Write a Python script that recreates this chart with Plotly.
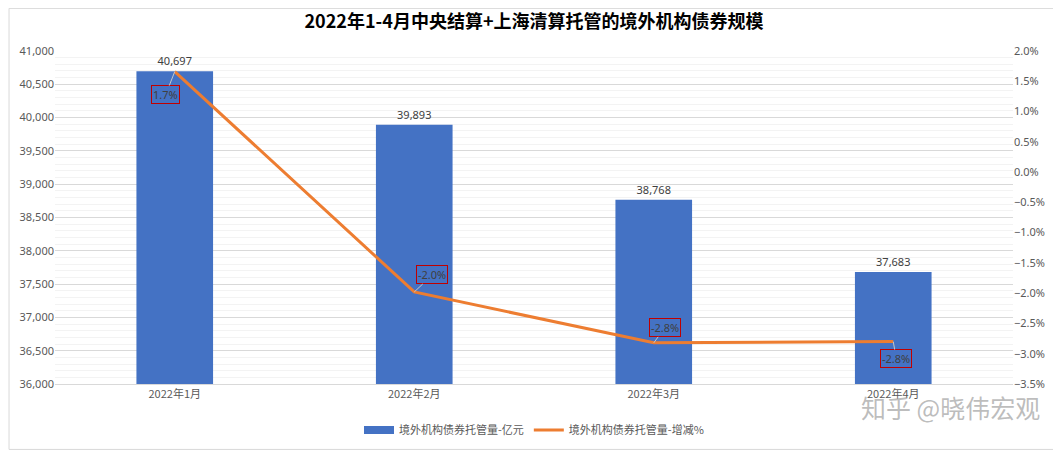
import plotly.graph_objects as go

categories = ["2022年1月", "2022年2月", "2022年3月", "2022年4月"]
custody_values = [40697, 39893, 38768, 37683]          # 亿元
change_pct = [1.66, -1.98, -2.82, -2.80]               # %
change_labels = ["1.7%", "-2.0%", "-2.8%", "-2.8%"]
label_offsets = [(-9, 23), (18, -17), (11, -15), (3, 17)]

bar_name = "境外机构债券托管量-亿元"
line_name = "境外机构债券托管量-增减%"
title_text = "2022年1-4月中央结算+上海清算托管的境外机构债券规模"
watermark = "知乎 @晓伟宏观"

FONT = "Noto Sans, Noto Sans CJK SC, sans-serif"
CJK = "Noto Sans CJK SC, sans-serif"
BLUE = "#4472C4"
ORANGE = "#ED7D31"

fig = go.Figure()
fig.add_trace(go.Bar(
    x=categories, y=custody_values, name=bar_name,
    marker=dict(color=BLUE, line=dict(width=0)),
    width=0.32, showlegend=False,
    text=[f"{v:,}" for v in custody_values],
    textposition="outside",
    textfont=dict(size=11, color="#404040", family=FONT),
    cliponaxis=False,
))
# legend proxy for the bar series (wide rectangle symbol)
fig.add_trace(go.Scatter(
    x=[None], y=[None], name=bar_name, mode="lines",
    line=dict(color=BLUE, width=8),
))
fig.add_trace(go.Scatter(
    x=categories, y=change_pct, name=line_name, yaxis="y2",
    mode="lines", line=dict(color=ORANGE, width=3),
))

for cat, val, lab, (ax, ay) in zip(categories, change_pct, change_labels, label_offsets):
    fig.add_annotation(
        x=cat, y=val, xref="x", yref="y2", text=lab,
        showarrow=True, arrowhead=0, arrowwidth=1, arrowcolor="#c8c8c8",
        ax=ax, ay=ay, font=dict(size=11, color="#404040", family=FONT),
        bordercolor="#C00000", borderwidth=1, borderpad=1,
    )

fig.add_annotation(
    text=watermark, xref="paper", yref="paper", x=0.935, y=-0.068,
    xanchor="center", yanchor="middle", showarrow=False,
    font=dict(size=25, color="rgba(160,160,160,0.7)", family=CJK),
)

# outer border (figure edges)
fig.add_shape(type="rect", xref="paper", yref="paper",
              x0=-0.048, x1=1.0495, y0=-0.1965, y1=1.128,
              line=dict(color="#d9d9d9", width=1), layer="below")

# page body has an 8px margin, so the figure is sized/placed to fill the 1061x450 window
fig.update_layout(
    width=1053, height=442,
    margin=dict(l=47, r=48, t=43, b=66, autoexpand=False),
    paper_bgcolor="white", plot_bgcolor="white",
    font=dict(family=FONT, size=11, color="#595959"),
    title=dict(text="<b>" + title_text + "</b>", x=0.5, xref="paper", y=0.968, yanchor="middle",
               font=dict(size=18, color="#000000", family=CJK)),
    bargap=0.68,
    showlegend=True,
    legend=dict(orientation="h", x=0.5, xanchor="center", y=-0.138, yanchor="middle",
                font=dict(size=11, color="#595959", family=CJK),
                itemwidth=30, tracegroupgap=0),
    xaxis=dict(showgrid=False, showline=True, linecolor="#d9d9d9", ticks="", automargin=False,
               tickfont=dict(size=11, color="#595959", family=CJK)),
    yaxis=dict(range=[36000, 41000], dtick=500, tickformat=",", automargin=False,
               showgrid=True, gridcolor="#d9d9d9", gridwidth=1,
               minor=dict(dtick=100, showgrid=True, gridcolor="#f3f3f3", gridwidth=1),
               zeroline=False, ticks="", tickfont=dict(size=11, color="#595959")),
    yaxis2=dict(range=[-3.5, 2.0], dtick=0.5, tickformat=".1f", ticksuffix="%", automargin=False,
                overlaying="y", side="right", showgrid=False, zeroline=False,
                ticks="", tickfont=dict(size=11, color="#595959")),
)

fig.write_html("out.html")
